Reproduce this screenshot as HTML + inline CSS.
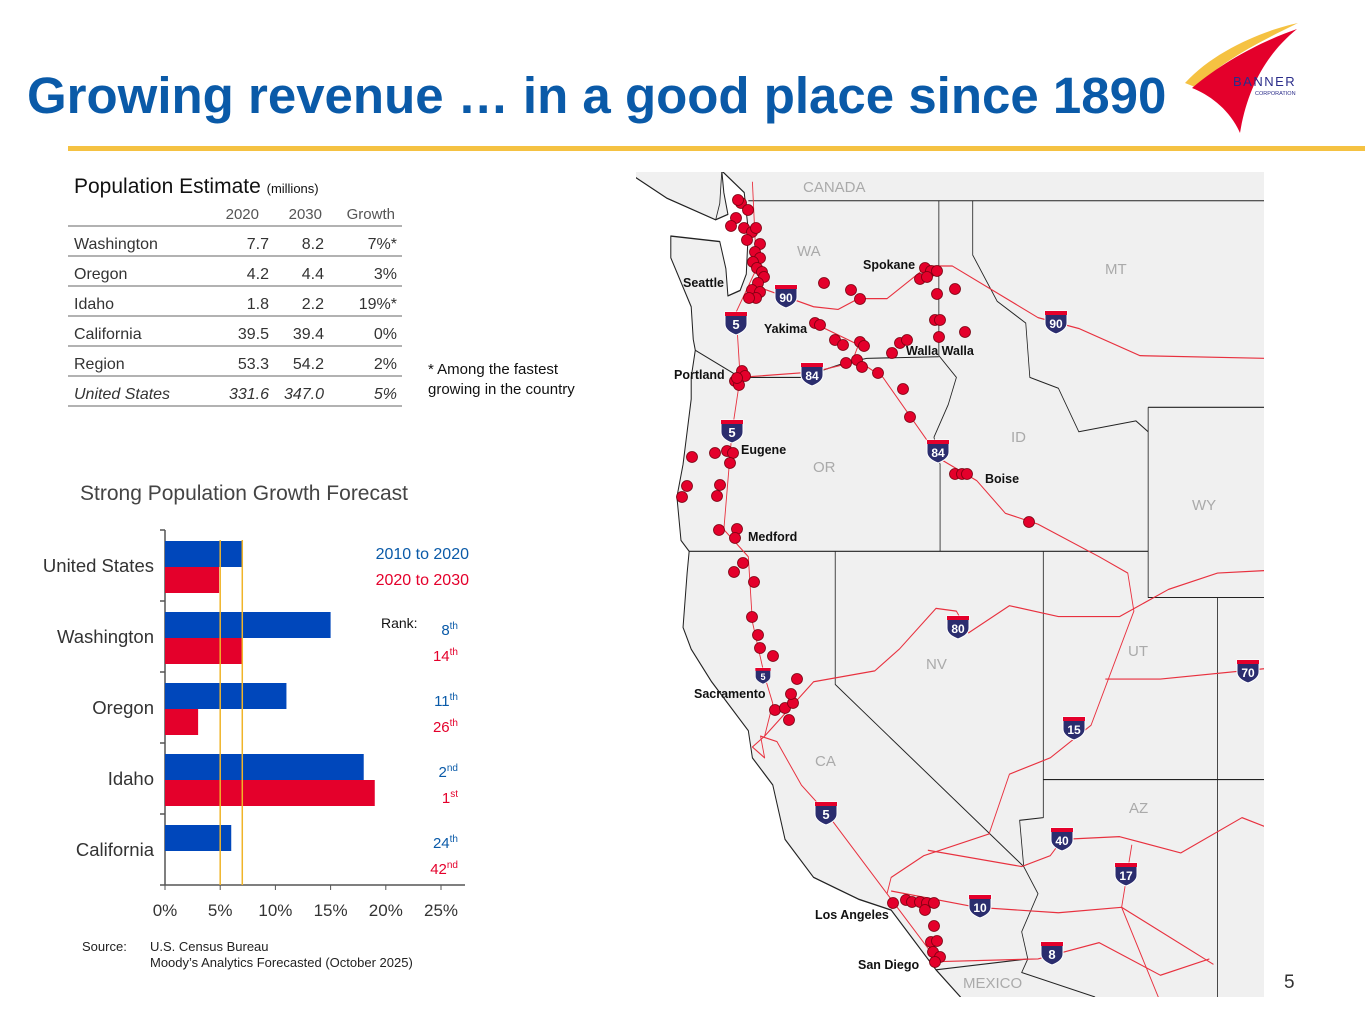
<!DOCTYPE html>
<html><head><meta charset="utf-8">
<style>
html,body{margin:0;padding:0;background:#fff;}
body{width:1365px;height:1024px;position:relative;overflow:hidden;font-family:"Liberation Sans",sans-serif;}
.abs{position:absolute;}
</style></head>
<body>
<div class="abs" style="left:27px;top:66px;font-size:51px;font-weight:bold;color:#0a5aa8;letter-spacing:0px;white-space:nowrap;">Growing revenue … in a good place since 1890</div>
<div class="abs" style="left:68px;top:146px;width:1297px;height:5px;background:#f5c242;"></div>

<svg class="abs" style="left:1175px;top:15px" width="160" height="125">
<path d="M10 68 C40 35 90 15 123 8 C95 22 55 40 20 72 Z" fill="#f5c242"/>
<path d="M17 73 C50 45 90 25 122 14 C90 40 72 75 65 118 C55 95 35 80 17 73 Z" fill="#e4002b"/>
<text x="58" y="71" font-size="13" fill="#2b2d8a" font-family="Liberation Sans" letter-spacing="1.5">BANNER</text>
<text x="80" y="80" font-size="5.5" fill="#2b2d8a" font-family="Liberation Sans">CORPORATION</text>
</svg>

<!-- Table -->
<div class="abs" style="left:74px;top:175px;font-size:21px;color:#111;white-space:nowrap;">Population Estimate <span style="font-size:13px">(millions)</span></div>
<svg class="abs" style="left:0;top:0" width="620" height="420" font-family="Liberation Sans" font-size="16" fill="#333">
<g id="tbl"></g>
</svg>
<div class="abs" style="left:428px;top:360px;font-size:15px;color:#111;line-height:20px;">* Among the fastest<br>growing in the country</div>

<!-- Bar chart -->
<div class="abs" style="left:80px;top:482px;font-size:21px;color:#444;white-space:nowrap;">Strong Population Growth Forecast</div>
<svg class="abs" id="chart" style="left:0;top:0" width="620" height="1000" font-family="Liberation Sans"></svg>
<div class="abs" style="left:82px;top:939px;font-size:13px;color:#222;">Source:</div>
<div class="abs" style="left:150px;top:939px;font-size:13px;color:#222;line-height:16px;white-space:nowrap;">U.S. Census Bureau<br>Moody’s Analytics Forecasted (October 2025)</div>

<!-- Map -->
<svg class="abs" id="map" style="left:0;top:0" width="1365" height="1024" font-family="Liberation Sans">
<defs><clipPath id="mc"><rect x="636" y="172" width="628" height="825"/></clipPath></defs>
<g clip-path="url(#mc)">
<rect x="636" y="172" width="628" height="825" fill="#f0f0f0"/>
<g id="mapz" transform="translate(630,160) scale(0.408,0.5435)" fill="none" stroke-linejoin="round">
<path fill="#fff" stroke="#222" stroke-width="2.5" d="M0,40 L10,30 L90,70 L210,110 L240,100 L230,60 L225,20 L280,60 L290,130 L285,210 L270,240 L240,250 L235,200 L220,150 L100,140 L100,180 L150,270 L155,330 L160,350 L150,400 L150,440 L130,560 L115,620 L125,700 L145,720 L140,760 L130,860 L150,900 L200,960 L290,1050 L300,1100 L350,1150 L380,1250 L450,1320 L560,1360 L640,1380 L700,1440 L750,1490 L810,1540 L820,1600 L0,1600 Z"/>
<path fill="#f0f0f0" stroke="#222" stroke-width="2" d="M10,30 L90,70 L210,110 L220,80 L225,20 L10,0 Z"/>
<g stroke="#222" stroke-width="2">
<path d="M290,75 L1560,75"/>
<path d="M757,75 L757,360 L800,400 L780,450 L745,510 L760,560 L760,720"/>
<path d="M160,350 L270,400 L420,400 L520,375 L580,365 L757,362"/>
<path d="M840,75 L840,175 L900,260 L970,300 L980,400 L1050,420 L1100,500 L1240,480 L1270,500"/>
<path d="M1270,455 L1560,455 M1270,455 L1270,805 L1560,805"/>
<path d="M145,720 L1270,720"/>
<path d="M503,720 L503,965 L965,1300 L1000,1350 L960,1420 L975,1470"/>
<path d="M1013,720 L1013,1210 L955,1215 L965,1300"/>
<path d="M1013,1140 L1560,1140"/>
<path d="M1440,805 L1440,1560"/>
<path d="M750,1490 L975,1470 L960,1495 L1140,1540"/>
</g>
<g stroke="#e8313f" stroke-width="2.2">
<path d="M300,40 L310,200 L260,280 L270,400 L250,500 L230,680 L290,730 L300,850 L330,950 L350,1000 L330,1060 L300,1080 L330,1100 L320,1060 L360,1070 L420,1150 L480,1200 L640,1360 L760,1480"/>
<path d="M300,230 L450,270 L510,275 L560,255 L630,255 L730,195 L790,195 L1000,290 L1100,310 L1250,360 L1560,365"/>
<path d="M450,300 L560,340 L540,380"/>
<path d="M270,400 L450,390 L560,370 L620,400 L760,550 L850,590 L920,650 L1000,670 L1150,730 L1220,760 L1235,830 L1130,1040 L1030,1100 L930,1130 L880,1240 L720,1280 L640,1320 L630,1350"/>
<path d="M330,1060 L450,960 L600,940 L660,900 L750,825 L800,830 L830,870 L930,820 L1050,840 L1200,840 L1320,790 L1440,760 L1568,755"/>
<path d="M1165,955 L1300,955 L1568,935"/>
<path d="M730,1270 L960,1300 L1030,1280 L1060,1250 L1200,1245 L1350,1275 L1500,1210 L1568,1230"/>
<path d="M640,1345 L850,1375 L1050,1385 L1205,1375 L1430,1480"/>
<path d="M750,1475 L1000,1470 L1150,1440 L1300,1500 L1420,1470"/>
<path d="M1230,1260 L1205,1375 L1310,1568"/>
</g>
</g>
</g>
<g fill="#aaa" font-size="15">
<text x="803" y="192">CANADA</text><text x="797" y="256">WA</text><text x="1105" y="274">MT</text>
<text x="1011" y="442">ID</text><text x="813" y="472">OR</text><text x="1192" y="510">WY</text>
<text x="926" y="669">NV</text><text x="1128" y="656">UT</text><text x="815" y="766">CA</text>
<text x="1129" y="813">AZ</text><text x="963" y="988">MEXICO</text>
</g>
<g id="shields"></g>
<g id="dots"></g>
<g font-size="12.5" font-weight="bold" fill="#111">
<text x="683" y="287">Seattle</text><text x="863" y="269">Spokane</text><text x="764" y="333">Yakima</text>
<text x="906" y="355">Walla Walla</text><text x="674" y="379">Portland</text><text x="741" y="454">Eugene</text>
<text x="985" y="483">Boise</text><text x="748" y="541">Medford</text><text x="694" y="698">Sacramento</text>
<text x="815" y="919">Los Angeles</text><text x="858" y="969">San Diego</text>
</g>
</svg>
<div class="abs" style="left:1284px;top:972px;font-size:19px;color:#333;">5</div>

<script>
// ---- table ----
const rows=[["Washington","7.7","8.2","7%*"],["Oregon","4.2","4.4","3%"],["Idaho","1.8","2.2","19%*"],["California","39.5","39.4","0%"],["Region","53.3","54.2","2%"],["United States","331.6","347.0","5%"]];
const ns="http://www.w3.org/2000/svg";
function mk(tag,attrs,parent){const e=document.createElementNS(ns,tag);for(const k in attrs)e.setAttribute(k,attrs[k]);parent.appendChild(e);return e;}
const tbl=document.getElementById('tbl');
[["2020",259],["2030",322],["Growth",395]].forEach(h=>{const t=mk('text',{x:h[1],y:219,'text-anchor':'end',fill:'#555','font-size':15},tbl);t.textContent=h[0];

});
for(let i=0;i<=6;i++){const l=mk('line',{x1:68,x2:402,y1:226+i*30,y2:226+i*30,stroke:'#666','stroke-width':1},tbl);

}
rows.forEach((r,i)=>{const y=249+i*30;const it=i==5?'italic':'normal';
[[r[0],74,'start'],[r[1],269,'end'],[r[2],324,'end'],[r[3],397,'end']].forEach(c=>{const t=mk('text',{x:c[1],y:y,'text-anchor':c[2],'font-style':it},tbl);t.textContent=c[0];

});});

// ---- chart ----
const categories=["United States","Washington","Oregon","Idaho","California"];
const growth2010=[7,15,11,18,6];
const growth2020=[4.9,7,3,19,0];
const xTicks=[0,5,10,15,20,25];
const refLines=[5,7];
const rank2010=[["",""],["8","th"],["11","th"],["2","nd"],["24","th"]];
const rank2020=[["",""],["14","th"],["26","th"],["1","st"],["42","nd"]];
const ch=document.getElementById('chart');
const X=v=>165+v*11.04;
const bandTop=i=>530+i*71;
mk('line',{x1:165,x2:165,y1:530,y2:885,stroke:'#555','stroke-width':1.5},ch);
mk('line',{x1:165,x2:465,y1:885,y2:885,stroke:'#555','stroke-width':1.5},ch);
for(let i=0;i<=5;i++)mk('line',{x1:160,x2:165,y1:bandTop(i),y2:bandTop(i),stroke:'#555','stroke-width':1.5},ch);
xTicks.forEach(v=>{mk('line',{x1:X(v),x2:X(v),y1:885,y2:890,stroke:'#555'},ch);
const t=mk('text',{x:X(v),y:916,'text-anchor':'middle','font-size':17,fill:'#333'},ch);t.textContent=v+'%';

});
categories.forEach((c,i)=>{
const t=mk('text',{x:154,y:bandTop(i)+42,'text-anchor':'end','font-size':18.5,fill:'#333'},ch);t.textContent=c;


const b=mk('rect',{x:X(0),y:bandTop(i)+11,width:X(growth2010[i])-X(0),height:26,fill:'#0047bb'},ch);


const r=mk('rect',{x:X(0),y:bandTop(i)+37,width:X(growth2020[i])-X(0),height:26,fill:'#e4002b'},ch);


[[rank2010[i],'#0a5aa8',bandTop(i)+34],[rank2020[i],'#e4002b',bandTop(i)+60]].forEach(rk=>{if(!rk[0][0])return;
const tt=mk('text',{x:458,y:rk[2],'text-anchor':'end','font-size':15,fill:rk[1]},ch);


tt.appendChild(document.createTextNode(rk[0][0]));const s=mk('tspan',{'font-size':10,dy:-6},tt);s.textContent=rk[0][1];});
});
refLines.forEach(v=>{const l=mk('line',{x1:X(v),x2:X(v),y1:540,y2:885,stroke:'#f0b429','stroke-width':1.5},ch);

});
[["2010 to 2020",'#0a5aa8',559],["2020 to 2030",'#e4002b',585]].forEach(l=>{const t=mk('text',{x:469,y:l[2],'text-anchor':'end','font-size':16,fill:l[1]},ch);t.textContent=l[0];

});
const rk=mk('text',{x:381,y:628,'font-size':14,fill:'#111'},ch);rk.textContent='Rank:';



// ---- map shields ----
const shieldNames=["90","90","5","5","5","5","84","84","80","15","70","40","17","10","8"];
const shieldPos=[[786,295],[1056,321],[736,322],[732,430],[763,675],[826,812],[812,373],[938,450],[958,626],[1074,727],[1248,670],[1062,838],[1126,873],[980,905],[1052,952]];
const sg=document.getElementById('shields');
shieldNames.forEach((n,i)=>{const [x,y]=shieldPos[i];const s=(n=="5"&&i==4)?0.7:1;
const g=mk('g',{transform:`translate(${x},${y}) scale(${s})`},sg);


mk('path',{d:'M-11,-10 L11,-10 L11,2 C11,8 5,11 0,13 C-5,11 -11,8 -11,2 Z',fill:'#2b2d6e',stroke:'#fff','stroke-width':1},g);
mk('rect',{x:-11,y:-10,width:22,height:4,fill:'#e4002b'},g);
const t=mk('text',{x:0,y:7,'text-anchor':'middle','font-size':n.length>1?12:13,'font-weight':'bold',fill:'#fff'},g);t.textContent=n;});

// ---- map dots ----
const dotPos=[[741,203],[748,210],[736,218],[731,226],[744,228],[752,232],[756,228],[747,240],[760,244],[755,252],[760,258],[753,262],[757,268],[762,272],[764,277],[758,283],[752,290],[760,292],[756,298],[749,298],[738,200],[824,283],[851,290],[860,299],[925,268],[931,271],[937,271],[920,279],[927,277],[937,294],[955,289],[935,320],[940,320],[939,337],[965,332],[815,323],[820,325],[835,340],[843,345],[860,342],[864,346],[892,353],[900,343],[907,340],[846,363],[857,360],[862,367],[878,373],[903,389],[910,417],[742,371],[735,381],[739,385],[745,376],[737,378],[715,453],[727,451],[733,453],[730,463],[720,485],[717,496],[692,457],[687,486],[682,497],[719,530],[737,529],[735,538],[743,563],[734,572],[754,582],[752,617],[758,635],[760,648],[773,656],[797,679],[775,710],[785,708],[793,703],[791,694],[789,720],[893,903],[906,900],[912,902],[920,902],[927,903],[925,910],[934,903],[934,926],[931,942],[937,941],[933,952],[940,957],[935,962],[955,474],[962,474],[967,474],[1029,522]];
const dg=document.getElementById('dots');
dotPos.forEach(p=>{const c=mk('circle',{cx:p[0],cy:p[1],r:5.5,fill:'#e4002b',stroke:'#7a0010','stroke-width':0.8},dg);

});
</script>
</body></html>
